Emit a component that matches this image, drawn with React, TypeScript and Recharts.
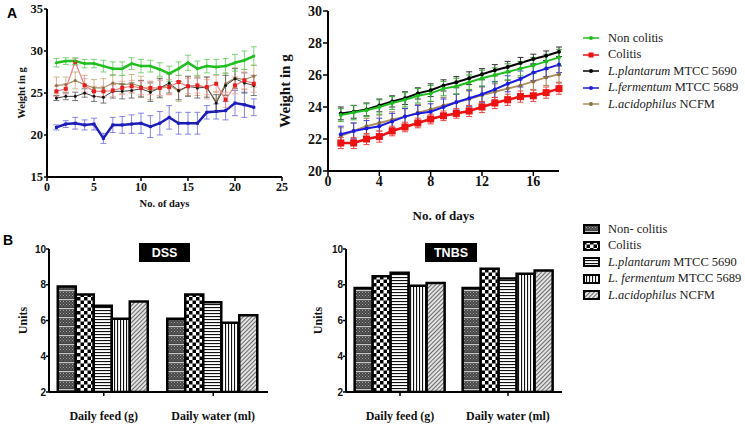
import { Bar, BarChart, ErrorBar, Legend, Line, LineChart, XAxis, YAxis } from "recharts";

const SERIF = "'Liberation Serif', 'Times New Roman', serif";
const SANS = "'Liberation Sans', Arial, sans-serif";

// ---- panel A, left: body weight over 22 days ----
const daysLeft = [1, 2, 3, 4, 5, 6, 7, 8, 9, 10, 11, 12, 13, 14, 15, 16, 17, 18, 19, 20, 21, 22];
const nonColitisLeft = [28.6, 28.8, 28.8, 28.5, 28.5, 28.2, 27.9, 27.9, 28.5, 28.2, 28.2, 27.8, 27.3, 27.9, 28.6, 27.9, 28.2, 28.1, 28.2, 28.6, 28.9, 29.4];
const nonColitisLeftErr = [0.5, 0.4, 0.4, 0.5, 0.5, 0.7, 0.8, 0.8, 0.7, 0.8, 0.7, 0.8, 0.9, 0.8, 0.9, 0.9, 0.8, 0.9, 0.9, 1.0, 1.1, 1.1];
const colitisLeft = [25.2, 25.5, 28.7, 25.9, 25.2, 25.2, 25.3, 25.6, 25.8, 25.6, 25.6, 25.6, 25.7, 26.3, 25.8, 25.9, 25.7, 26.1, 24.2, 25.9, 26.5, 26.1];
const colitisLeftErr = [0.6, 0.6, 0.4, 0.8, 0.6, 0.6, 0.7, 0.8, 0.7, 0.8, 0.8, 0.9, 0.9, 0.8, 0.9, 0.9, 0.9, 1.0, 0.9, 1.0, 1.0, 1.0];
const plantarumLeft = [24.4, 24.6, 24.6, 25.0, 24.6, 24.5, 25.2, 25.2, 25.3, 25.5, 25.1, 25.6, 26.2, 25.3, 25.8, 25.6, 25.7, 23.8, 25.9, 26.7, 26.2, 25.9];
const plantarumLeftErr = [0.3, 0.4, 0.5, 0.5, 0.6, 0.7, 0.8, 0.9, 0.9, 1.0, 1.1, 1.1, 1.2, 1.1, 1.2, 1.2, 1.2, 1.0, 1.2, 1.2, 1.2, 1.2];
const fermentumLeft = [20.9, 21.3, 21.4, 21.2, 21.3, 19.6, 21.2, 21.2, 21.3, 21.4, 21.0, 21.4, 22.1, 21.4, 21.4, 21.4, 22.7, 22.8, 22.9, 23.8, 23.6, 23.3];
const fermentumLeftErr = [0.3, 0.4, 0.7, 0.6, 0.7, 0.6, 0.9, 1.0, 1.1, 1.2, 1.3, 1.4, 1.4, 1.3, 1.3, 1.3, 0.8, 0.9, 1.1, 1.5, 1.5, 1.0];
const acidophilusLeft = [25.9, 26.0, 26.5, 26.0, 25.6, 25.6, 26.2, 26.0, 26.1, 25.8, 25.3, 25.6, 26.0, 25.2, 25.8, 25.9, 25.6, 24.0, 26.1, 26.8, 26.6, 27.0];
const acidophilusLeftErr = [1.0, 0.9, 1.0, 1.1, 1.0, 1.1, 1.0, 1.1, 1.1, 1.2, 1.1, 1.2, 1.2, 1.2, 1.1, 1.2, 1.3, 1.2, 1.3, 1.2, 1.2, 1.3];
const xTicksLeft = [0, 5, 10, 15, 20, 25];
const yTicksLeft = [15, 20, 25, 30, 35];

// ---- panel A, right: body weight over 18 days ----
const daysRight = [1, 2, 3, 4, 5, 6, 7, 8, 9, 10, 11, 12, 13, 14, 15, 16, 17, 18];
const nonColitisRight = [23.5, 23.65, 23.8, 24.0, 24.25, 24.45, 24.7, 24.85, 25.15, 25.3, 25.55, 25.8, 26.0, 26.2, 26.4, 26.6, 26.85, 27.1];
const nonColitisRightErr = [0.4, 0.45, 0.4, 0.45, 0.4, 0.45, 0.45, 0.5, 0.45, 0.5, 0.45, 0.5, 0.45, 0.5, 0.45, 0.5, 0.45, 0.5];
const colitisRight = [21.75, 21.75, 22.0, 22.15, 22.5, 22.75, 23.0, 23.25, 23.45, 23.6, 23.75, 24.0, 24.25, 24.45, 24.65, 24.7, 24.9, 25.15];
const colitisRightErr = [0.35, 0.35, 0.35, 0.35, 0.3, 0.3, 0.3, 0.3, 0.3, 0.3, 0.35, 0.35, 0.35, 0.35, 0.35, 0.35, 0.35, 0.35];
const plantarumRight = [23.6, 23.7, 23.85, 24.1, 24.35, 24.55, 24.85, 25.05, 25.35, 25.55, 25.8, 26.05, 26.3, 26.5, 26.75, 27.0, 27.2, 27.45];
const plantarumRightErr = [0.4, 0.4, 0.4, 0.4, 0.35, 0.4, 0.35, 0.4, 0.35, 0.35, 0.4, 0.35, 0.35, 0.35, 0.35, 0.3, 0.3, 0.3];
const fermentumRight = [22.3, 22.5, 22.65, 22.8, 23.1, 23.4, 23.6, 23.7, 24.0, 24.3, 24.55, 24.8, 25.1, 25.45, 25.75, 26.15, 26.4, 26.65];
const fermentumRightErr = [0.5, 0.5, 0.5, 0.5, 0.5, 0.5, 0.5, 0.5, 0.5, 0.5, 0.5, 0.5, 0.5, 0.5, 0.5, 0.5, 0.5, 0.5];
const acidophilusRight = [22.2, 22.5, 22.8, 23.0, 23.2, 23.4, 23.65, 23.85, 24.1, 24.3, 24.5, 24.75, 24.95, 25.15, 25.35, 25.6, 25.85, 26.05];
const acidophilusRightErr = [0.5, 0.5, 0.5, 0.5, 0.5, 0.5, 0.5, 0.5, 0.5, 0.5, 0.5, 0.5, 0.5, 0.5, 0.5, 0.5, 0.5, 0.5];
const xTicksRight = [0, 4, 8, 12, 16];
const yTicksRight = [20, 22, 24, 26, 28, 30];

// ---- panel B: food and water intake ----
const intakeCategories = ["Daily feed (g)", "Daily water (ml)"];
const dssNonColitis = [7.9, 6.1];
const dssColitis = [7.45, 7.45];
const dssPlantarum = [6.82, 7.02];
const dssFermentum = [6.1, 5.87];
const dssAcidophilus = [7.06, 6.3];
const tnbsNonColitis = [7.82, 7.82];
const tnbsColitis = [8.47, 8.9];
const tnbsPlantarum = [8.67, 8.35];
const tnbsFermentum = [7.95, 8.61];
const tnbsAcidophilus = [8.1, 8.8];
const yTicksBar = [2, 4, 6, 8, 10];

const seriesOrder = ["nonColitis", "colitis", "plantarum", "fermentum", "acidophilus"];
const lineNames: Record<string, [string, string]> = {
  nonColitis: ["", "Non colitis"],
  colitis: ["", "Colitis"],
  plantarum: ["L.plantarum", " MTCC 5690"],
  fermentum: ["L.fermentum", " MTCC 5689"],
  acidophilus: ["L.acidophilus", " NCFM"],
};
const barNames: Record<string, [string, string]> = {
  nonColitis: ["", "Non- colitis"],
  colitis: ["", "Colitis"],
  plantarum: ["L.plantarum", " MTCC 5690"],
  fermentum: ["L. fermentum", " MTCC 5689"],
  acidophilus: ["L.acidophilus", " NCFM"],
};

const leftRows = daysLeft.map((day, i) => ({
  day,
  nonColitis: nonColitisLeft[i], nonColitisErr: nonColitisLeftErr[i],
  colitis: colitisLeft[i], colitisErr: colitisLeftErr[i],
  plantarum: plantarumLeft[i], plantarumErr: plantarumLeftErr[i],
  fermentum: fermentumLeft[i], fermentumErr: fermentumLeftErr[i],
  acidophilus: acidophilusLeft[i], acidophilusErr: acidophilusLeftErr[i],
}));

const rightRows = daysRight.map((day, i) => ({
  day,
  nonColitis: nonColitisRight[i], nonColitisErr: nonColitisRightErr[i],
  colitis: colitisRight[i], colitisErr: colitisRightErr[i],
  plantarum: plantarumRight[i], plantarumErr: plantarumRightErr[i],
  fermentum: fermentumRight[i], fermentumErr: fermentumRightErr[i],
  acidophilus: acidophilusRight[i], acidophilusErr: acidophilusRightErr[i],
}));

const dssRows = intakeCategories.map((name, i) => ({
  name,
  nonColitis: dssNonColitis[i], colitis: dssColitis[i], plantarum: dssPlantarum[i],
  fermentum: dssFermentum[i], acidophilus: dssAcidophilus[i],
}));

const tnbsRows = intakeCategories.map((name, i) => ({
  name,
  nonColitis: tnbsNonColitis[i], colitis: tnbsColitis[i], plantarum: tnbsPlantarum[i],
  fermentum: tnbsFermentum[i], acidophilus: tnbsAcidophilus[i],
}));

// line look per series (left panel is thinner, right panel heavier)
const leftStyle: Record<string, any> = {
  nonColitis: { stroke: "#1fbf1f", width: 2.5, dot: "#1fbf1f", err: "#5ccc5c", square: 0 },
  colitis: { stroke: "#f08080", width: 1.2, dot: "#e81c1c", err: "#f09a9a", square: 4 },
  plantarum: { stroke: "#444", width: 1, dot: "#111", err: "#555", square: 0 },
  fermentum: { stroke: "#1c1cb8", width: 2.5, dot: "#1c1cb8", err: "#6a6ae0", square: 3 },
  acidophilus: { stroke: "#a89060", width: 1.2, dot: "#8a7040", err: "#c4a470", square: 0 },
};
const rightStyle: Record<string, any> = {
  nonColitis: { stroke: "#1fbf1f", width: 2, dot: "#1fbf1f", err: "#3daa3d", square: 0 },
  colitis: { stroke: "#ee1111", width: 2.5, dot: "#ee1111", err: "#ee4444", square: 7 },
  plantarum: { stroke: "#000", width: 2, dot: "#000", err: "#333", square: 0 },
  fermentum: { stroke: "#1a1ae6", width: 2, dot: "#1a1ae6", err: "#4040e0", square: 0 },
  acidophilus: { stroke: "#b09060", width: 2, dot: "#8a7040", err: "#a08050", square: 0 },
};
const drawOrder = ["acidophilus", "fermentum", "plantarum", "colitis", "nonColitis"];

const barFills: Record<string, string> = {
  nonColitis: "url(#pNon)",
  colitis: "url(#pCheck)",
  plantarum: "url(#pHoriz)",
  fermentum: "url(#pVert)",
  acidophilus: "url(#pDiag)",
};

const makeDot = (key: string, color: string, square: number, r: number) => (props: any) => {
  const { cx, cy, index } = props;
  if (cx == null || cy == null) return <g key={`${key}-${index}`} />;
  if (square > 0)
    return <rect key={`${key}-${index}`} x={cx - square / 2} y={cy - square / 2} width={square} height={square} fill={color} />;
  return <circle key={`${key}-${index}`} cx={cx} cy={cy} r={r} fill={color} />;
};

const NameText = ({ parts }: { parts: [string, string] }) => (
  <span style={{ whiteSpace: "nowrap" }}>
    {parts[0] && <i>{parts[0]}</i>}
    {parts[1]}
  </span>
);

const LineLegend = ({ payload }: any) => {
  const items = seriesOrder.filter((k) => (payload || []).some((p: any) => p.dataKey === k));
  return (
    <div style={{ fontFamily: SERIF, fontSize: 12.5, color: "#222", whiteSpace: "nowrap" }}>
      {items.map((k) => {
        const s = rightStyle[k];
        return (
          <div key={k} style={{ display: "flex", alignItems: "center", height: 16.5 }}>
            <svg width={17} height={10} style={{ marginRight: 8, flexShrink: 0 }}>
              <line x1={0} y1={5} x2={16} y2={5} stroke={s.stroke} strokeWidth={1.5} />
              {s.square ? <rect x={5.5} y={2.5} width={5} height={5} fill={s.dot} /> : <circle cx={8} cy={5} r={2} fill={s.dot} />}
            </svg>
            <NameText parts={lineNames[k]} />
          </div>
        );
      })}
    </div>
  );
};

const BarLegend = ({ payload }: any) => {
  const items = seriesOrder.filter((k) => (payload || []).some((p: any) => p.dataKey === k));
  return (
    <div style={{ fontFamily: SERIF, fontSize: 12.5, color: "#222", whiteSpace: "nowrap" }}>
      {items.map((k) => (
        <div key={k} style={{ display: "flex", alignItems: "center", height: 16.5 }}>
          <svg width={18} height={10} style={{ marginRight: 7, flexShrink: 0 }}>
            <rect x={1} y={1} width={15} height={8} fill={barFills[k]} stroke="#000" strokeWidth={2} />
          </svg>
          <NameText parts={barNames[k]} />
        </div>
      ))}
    </div>
  );
};

const Patterns = () => (
  <defs>
    <pattern id="pNon" width="3" height="9" patternUnits="userSpaceOnUse">
      <rect width="3" height="9" fill="#454545" />
      <rect x="0" y="0" width="1" height="1" fill="#a0a0a0" />
      <rect x="1.5" y="1.5" width="1" height="1" fill="#909090" />
      <rect x="0" y="3" width="1" height="1" fill="#a0a0a0" />
      <rect x="1.5" y="4.5" width="1" height="1" fill="#909090" />
      <rect x="0" y="7" width="3" height="1.2" fill="#c8c8c8" />
    </pattern>
    <pattern id="pCheck" width="7" height="7" patternUnits="userSpaceOnUse">
      <rect width="7" height="7" fill="#fff" />
      <rect x="0" y="0" width="3.5" height="3.5" fill="#000" />
      <rect x="3.5" y="3.5" width="3.5" height="3.5" fill="#000" />
    </pattern>
    <pattern id="pHoriz" width="4" height="3" patternUnits="userSpaceOnUse">
      <rect width="4" height="3" fill="#fff" />
      <rect x="0" y="0" width="4" height="1.1" fill="#111" />
    </pattern>
    <pattern id="pVert" width="3" height="4" patternUnits="userSpaceOnUse">
      <rect width="3" height="4" fill="#fff" />
      <rect x="0" y="0" width="1.1" height="4" fill="#111" />
    </pattern>
    <pattern id="pDiag" width="3" height="3" patternUnits="userSpaceOnUse" patternTransform="rotate(45)">
      <rect width="3" height="3" fill="#e2e2e2" />
      <rect x="0" y="0" width="1" height="3" fill="#6a6a6a" />
    </pattern>
  </defs>
);

const axisLine = { stroke: "#000", strokeWidth: 2 };
const tickLine = { stroke: "#000", strokeWidth: 1.5 };

function WeightLeft() {
  return (
    <LineChart width={300} height={215} data={leftRows} margin={{ top: 9, right: 18, bottom: 8, left: 0 }}>
      <XAxis
        type="number"
        dataKey="day"
        domain={[0, 25]}
        ticks={xTicksLeft}
        height={30}
        axisLine={axisLine}
        tickLine={tickLine}
        tickSize={4}
        tickMargin={1}
        tick={{ fontFamily: SERIF, fontSize: 12, fontWeight: 700, fill: "#111" }}
        label={{ value: "No. of days", position: "insideBottom", offset: 0, fontFamily: SERIF, fontSize: 10.5, fontWeight: 700, fill: "#111" }}
      />
      <YAxis
        domain={[15, 35]}
        ticks={yTicksLeft}
        width={47}
        axisLine={axisLine}
        tickLine={tickLine}
        tickSize={3}
        tickMargin={1}
        tick={{ fontFamily: SERIF, fontSize: 12.5, fontWeight: 700, fill: "#111" }}
        label={{ value: "Weight in g", angle: -90, position: "center", dx: -2, fontFamily: SERIF, fontSize: 10.5, fontWeight: 700, fill: "#111" }}
      />
      {drawOrder.map((k) => {
        const s = leftStyle[k];
        return (
          <Line
            key={k}
            dataKey={k}
            stroke={s.stroke}
            strokeWidth={s.width}
            dot={makeDot(k, s.dot, s.square, 1.5)}
            activeDot={false}
            isAnimationActive={false}
          >
            <ErrorBar dataKey={`${k}Err`} width={3} stroke={s.err} strokeWidth={0.8} direction="y" />
          </Line>
        );
      })}
    </LineChart>
  );
}

function WeightRight() {
  return (
    <LineChart width={475} height={230} data={rightRows} margin={{ top: 11, right: 186, bottom: 8, left: 0 }}>
      <XAxis
        type="number"
        dataKey="day"
        domain={[0, 18]}
        ticks={xTicksRight}
        height={51}
        axisLine={axisLine}
        tickLine={tickLine}
        tickSize={5}
        tickMargin={0}
        tick={{ fontFamily: SERIF, fontSize: 14, fontWeight: 700, fill: "#111" }}
        label={{ value: "No. of days", position: "insideBottom", offset: 2, fontFamily: SERIF, fontSize: 13, fontWeight: 700, fill: "#111" }}
      />
      <YAxis
        domain={[20, 30]}
        ticks={yTicksRight}
        width={58}
        axisLine={axisLine}
        tickLine={tickLine}
        tickSize={5}
        tickMargin={1}
        tick={{ fontFamily: SERIF, fontSize: 14, fontWeight: 700, fill: "#111" }}
        label={{ value: "Weight in g", angle: -90, position: "center", dx: -14, fontFamily: SERIF, fontSize: 15, fontWeight: 700, fill: "#111" }}
      />
      <Legend
        layout="vertical"
        align="center"
        verticalAlign="middle"
        content={<LineLegend />}
        wrapperStyle={{ left: 313, top: 30, width: 200 }}
      />
      {drawOrder.map((k) => {
        const s = rightStyle[k];
        return (
          <Line
            key={k}
            dataKey={k}
            stroke={s.stroke}
            strokeWidth={s.width}
            dot={makeDot(k, s.dot, s.square, 2)}
            activeDot={false}
            isAnimationActive={false}
          >
            <ErrorBar dataKey={`${k}Err`} width={3} stroke={s.err} strokeWidth={1} direction="y" />
          </Line>
        );
      })}
    </LineChart>
  );
}

function IntakeChart({ rows, title, width, yWidth, right, titleX, titleW, unitsDx, legend }: any) {
  return (
    <BarChart
      width={width}
      height={206}
      data={rows}
      margin={{ top: 29, right, bottom: 8, left: 0 }}
      barCategoryGap="8%"
      barGap={0}
    >
      <Patterns />
      <XAxis
        dataKey="name"
        height={26}
        axisLine={axisLine}
        tickLine={tickLine}
        tickSize={4}
        tickMargin={15}
        tick={{ fontFamily: SERIF, fontSize: 12, fontWeight: 700, fill: "#111" }}
      />
      <YAxis
        domain={[2, 10]}
        ticks={yTicksBar}
        width={yWidth}
        allowDataOverflow
        axisLine={axisLine}
        tickLine={tickLine}
        tickSize={3}
        tickMargin={0}
        tick={{ fontFamily: SANS, fontSize: 10, fontWeight: 700, fill: "#111" }}
        label={{ value: "Units", angle: -90, position: "center", dx: unitsDx, fontFamily: SERIF, fontSize: 12, fontWeight: 700, fill: "#111" }}
      />
      {legend && (
        <Legend
          layout="vertical"
          align="center"
          verticalAlign="middle"
          content={<BarLegend />}
          wrapperStyle={{ left: 287, top: 1, width: 200 }}
        />
      )}
      {seriesOrder.map((k) => (
        <Bar key={k} dataKey={k} fill={barFills[k]} stroke="#000" strokeWidth={2.5} isAnimationActive={false} />
      ))}
      <rect x={titleX} y={23} width={titleW} height={19} fill="#000" />
      <text
        x={titleX + titleW / 2}
        y={33}
        textAnchor="middle"
        dominantBaseline="central"
        fill="#fff"
        fontFamily={SANS}
        fontSize={12.5}
        fontWeight={700}
      >
        {title}
      </text>
    </BarChart>
  );
}

export default function App() {
  return (
    <div style={{ position: "absolute", left: 0, top: 0, width: 745, height: 426, background: "#fff", fontFamily: SERIF, overflow: "hidden" }}>
      <div style={{ position: "absolute", left: 7, top: 5, fontFamily: SANS, fontWeight: 700, fontSize: 14 }}>A</div>
      <div style={{ position: "absolute", left: 3, top: 232, fontFamily: SANS, fontWeight: 700, fontSize: 14 }}>B</div>
      <div style={{ position: "absolute", left: 0, top: 0 }}>
        <WeightLeft />
      </div>
      <div style={{ position: "absolute", left: 270, top: 0 }}>
        <WeightRight />
      </div>
      <div style={{ position: "absolute", left: 0, top: 220 }}>
        <IntakeChart rows={dssRows} title="DSS" width={290} yWidth={49} right={22} titleX={139} titleW={51} unitsDx={-2} legend={false} />
      </div>
      <div style={{ position: "absolute", left: 296, top: 220 }}>
        <IntakeChart rows={tnbsRows} title="TNBS" width={449} yWidth={50} right={183} titleX={129} titleW={52} unitsDx={-3} legend />
      </div>
    </div>
  );
}
